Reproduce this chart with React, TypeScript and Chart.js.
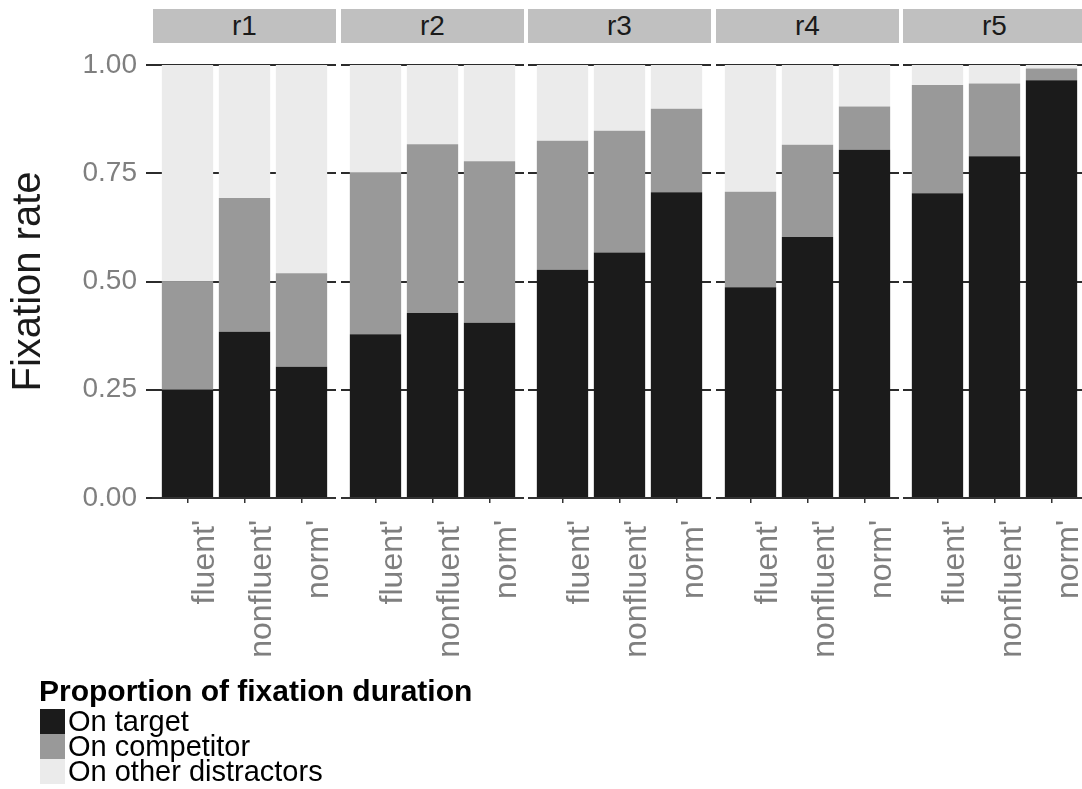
import React, { useEffect, useRef } from 'react';
import { Chart, registerables } from 'chart.js';
Chart.register(...registerables);

const rounds = ['r1', 'r2', 'r3', 'r4', 'r5'];
const groups = ['fluent', 'nonfluent', 'norm'];
const onTarget = [
  [0.25, 0.384, 0.303],
  [0.378, 0.427, 0.405],
  [0.527, 0.567, 0.706],
  [0.487, 0.603, 0.804],
  [0.704, 0.789, 0.965],
];
const onCompetitor = [
  [0.25, 0.309, 0.216],
  [0.373, 0.39, 0.373],
  [0.298, 0.281, 0.193],
  [0.22, 0.213, 0.1],
  [0.25, 0.168, 0.027],
];
const onOther = [
  [0.5, 0.307, 0.481],
  [0.249, 0.183, 0.222],
  [0.175, 0.152, 0.101],
  [0.293, 0.184, 0.096],
  [0.046, 0.043, 0.008],
];
const yTicks = [0, 0.25, 0.5, 0.75, 1];
const seriesNames = ['On target', 'On competitor', 'On other distractors'];
const seriesColors = ['#1b1b1b', '#999999', '#ebebeb'];
const legendTitle = 'Proportion of fixation duration';
const yTitle = 'Fixation rate';

const FONT = "'Liberation Sans', Arial, Helvetica, sans-serif";
const PANEL_LEFT = 153;
const PANEL_W = 183;
const PANEL_STEP = 187.5;
const AXIS_W = 153;
const CANVAS_TOP = 50;
const CANVAS_H = 640;
const PLOT_TOP_PAD = 15;
const PLOT_H = 433;

function Panel({ index }: { index: number }) {
  const ref = useRef<HTMLCanvasElement | null>(null);
  const first = index === 0;
  const axisW = first ? AXIS_W : 0;
  const width = axisW + PANEL_W;
  const left = first ? 0 : PANEL_LEFT + Math.round(index * PANEL_STEP);

  useEffect(() => {
    if (!ref.current) return;
    const series = [onTarget, onCompetitor, onOther];
    const chart = new Chart(ref.current, {
      type: 'bar',
      data: {
        datasets: series.map((s, k) => ({
          label: seriesNames[k],
          data: groups.map((_, j) => ({ x: j + 1, y: s[index][j] })),
          backgroundColor: seriesColors[k],
          borderWidth: 0,
          barPercentage: 0.9,
          categoryPercentage: 1,
        })),
      },
      options: {
        responsive: false,
        animation: false,
        devicePixelRatio: 1,
        layout: { padding: { top: 0, left: 0, right: 0, bottom: 0 } },
        plugins: { legend: { display: false }, tooltip: { enabled: false } },
        scales: {
          x: {
            type: 'linear',
            stacked: true,
            min: 0.395,
            max: 3.605,
            offset: false,
            afterBuildTicks: (s: any) => {
              s.ticks = groups.map((_, j) => ({ value: j + 1 }));
            },
            afterFit: (s: any) => {
              s.height = CANVAS_H - PLOT_TOP_PAD - PLOT_H;
              s.paddingLeft = 0;
              s.paddingRight = 0;
            },
            grid: { drawOnChartArea: false, color: '#333333', lineWidth: 1.5, tickLength: 5, offset: false },
            border: { display: true, color: '#333333', width: 2 },
            ticks: {
              minRotation: 90,
              maxRotation: 90,
              autoSkip: false,
              padding: 17,
              labelOffset: 18,
              color: '#7f7f7f',
              font: { family: FONT, size: 32 },
              callback: (_v: any, i: number) => groups[i] + "'",
            },
          },
          y: {
            stacked: true,
            min: 0,
            max: 1,
            afterBuildTicks: (s: any) => {
              s.ticks = yTicks.map((v) => ({ value: v }));
            },
            afterFit: (s: any) => {
              s.width = axisW;
              s.paddingTop = PLOT_TOP_PAD;
              s.paddingBottom = 0;
            },
            grid: { color: '#2b2b2b', lineWidth: 2, tickLength: first ? 7 : 0, drawTicks: first },
            border: { display: false },
            ticks: {
              display: first,
              padding: 9,
              color: '#7f7f7f',
              font: { family: FONT, size: 28 },
              callback: (v: any) => Number(v).toFixed(2),
            },
            title: {
              display: first,
              text: yTitle,
              color: '#1a1a1a',
              font: { family: FONT, size: 40 },
              padding: { top: 5, bottom: 0 },
            },
          },
        },
      } as any,
    });
    return () => chart.destroy();
  }, [index]);

  return (
    <canvas
      ref={ref}
      width={width}
      height={CANVAS_H}
      style={{ position: 'absolute', left, top: CANVAS_TOP, width, height: CANVAS_H }}
    />
  );
}

export default function App() {
  return (
    <div
      style={{
        position: 'absolute',
        left: 0,
        top: 0,
        width: 1082,
        height: 789,
        overflow: 'hidden',
        background: '#ffffff',
        fontFamily: FONT,
      }}
    >
      {rounds.map((r, i) => (
        <div
          key={r}
          style={{
            position: 'absolute',
            left: PANEL_LEFT + Math.round(i * PANEL_STEP),
            top: 9,
            width: PANEL_W,
            height: 34,
            background: '#c0c0c0',
            color: '#1a1a1a',
            fontSize: 28,
            lineHeight: '34px',
            textAlign: 'center',
          }}
        >
          {r}
        </div>
      ))}
      {rounds.map((r, i) => (
        <Panel key={'p' + r} index={i} />
      ))}
      <div
        style={{
          position: 'absolute',
          left: 39,
          top: 676,
          fontSize: 30,
          lineHeight: '30px',
          fontWeight: 'bold',
          color: '#000',
          whiteSpace: 'nowrap',
        }}
      >
        {legendTitle}
      </div>
      {seriesNames.map((name, k) => (
        <div
          key={name}
          style={{ position: 'absolute', left: 40, top: 709 + k * 25, height: 25, display: 'flex', alignItems: 'flex-start' }}
        >
          <div style={{ width: 25, height: 25, background: seriesColors[k] }} />
          <div style={{ marginLeft: 3, fontSize: 29, lineHeight: '25px', color: '#000', whiteSpace: 'nowrap' }}>{name}</div>
        </div>
      ))}
    </div>
  );
}
